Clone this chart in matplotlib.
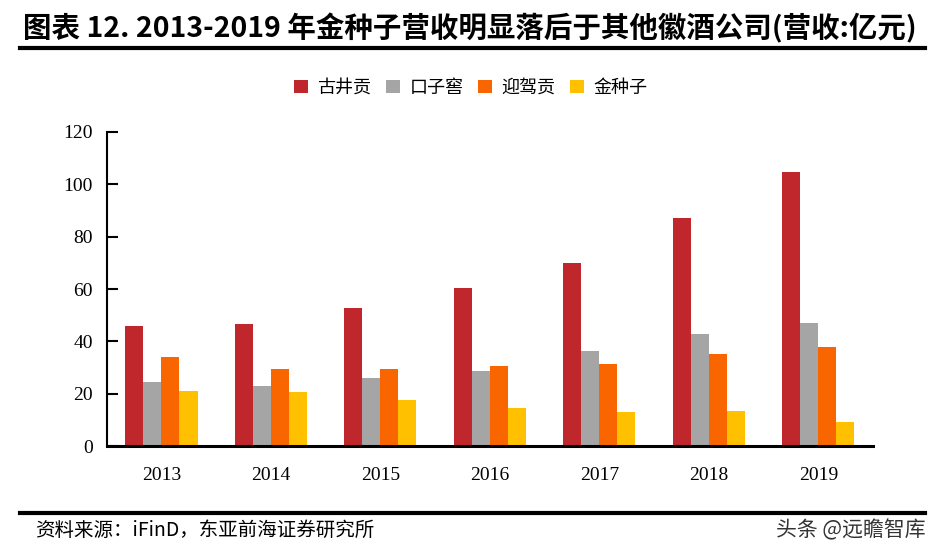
import matplotlib
matplotlib.use("Agg")
import matplotlib.pyplot as plt
import numpy as np
from matplotlib.lines import Line2D

plt.rcParams['font.family'] = ['Noto Sans CJK SC', 'DejaVu Sans']

years = ['2013', '2014', '2015', '2016', '2017', '2018', '2019']
series_names = ['古井贡', '口子窖', '迎驾贡', '金种子']
gujinggong = [45.9, 46.6, 52.7, 60.3, 69.8, 87.1, 104.7]
kouzijiao = [24.5, 22.9, 26.0, 28.5, 36.3, 42.9, 46.9]
yingjiagong = [34.1, 29.6, 29.4, 30.6, 31.5, 35.0, 37.9]
jinzhongzi = [21.1, 20.8, 17.4, 14.4, 12.9, 13.2, 9.3]
y_ticks = [0, 20, 40, 60, 80, 100, 120]

colors = ['#C0272D', '#A5A5A5', '#F96600', '#FFC000']
data = [gujinggong, kouzijiao, yingjiagong, jinzhongzi]

fig = plt.figure(figsize=(9.43, 5.59), dpi=100)
ax = fig.add_axes([0.1131, 0.2021, 0.8127, 0.5618])

x = np.arange(len(years))
w = 0.165
for i, (vals, c, name) in enumerate(zip(data, colors, series_names)):
    ax.bar(x + (i - 1.5) * w, vals, width=w, color=c, label=name, zorder=2)

ax.set_xlim(-0.5, 6.5)
ax.set_ylim(0, 120)
ax.set_yticks(y_ticks)
ax.set_xticks(x)
ax.set_xticklabels(years, family='Liberation Serif', fontsize=14)
ax.set_yticklabels([str(v) for v in y_ticks], family='Liberation Serif', fontsize=14)
for s in ['top', 'right']:
    ax.spines[s].set_visible(False)
ax.spines['left'].set_linewidth(1.5)
ax.spines['bottom'].set_linewidth(2.2)
ax.tick_params(axis='y', direction='in', length=8, width=1.5, pad=10)
ax.tick_params(axis='x', length=0, pad=15)

leg = fig.legend(loc='center', bbox_to_anchor=(0.499, 0.843), ncol=4, frameon=False,
                 fontsize=13, handlelength=0.8, handleheight=0.8, handletextpad=0.5,
                 columnspacing=0.8)

fig.text(0.024, 0.95, '图表 12. 2013-2019 年金种子营收明显落后于其他徽酒公司(营收:亿元)',
         fontsize=20.5, fontweight='bold', va='center', ha='left')
fig.add_artist(Line2D([0.021, 0.981], [0.914, 0.914], transform=fig.transFigure,
                      color='black', linewidth=3))
fig.add_artist(Line2D([0.021, 0.981], [0.082, 0.082], transform=fig.transFigure,
                      color='black', linewidth=3))
fig.text(0.037, 0.052, '资料来源：iFinD，东亚前海证券研究所', fontsize=14,
         va='center', ha='left')
fig.text(0.982, 0.052, '头条 @远瞻智库', fontsize=15, color='#333333',
         va='center', ha='right')

fig.savefig('out.png', dpi=100)
